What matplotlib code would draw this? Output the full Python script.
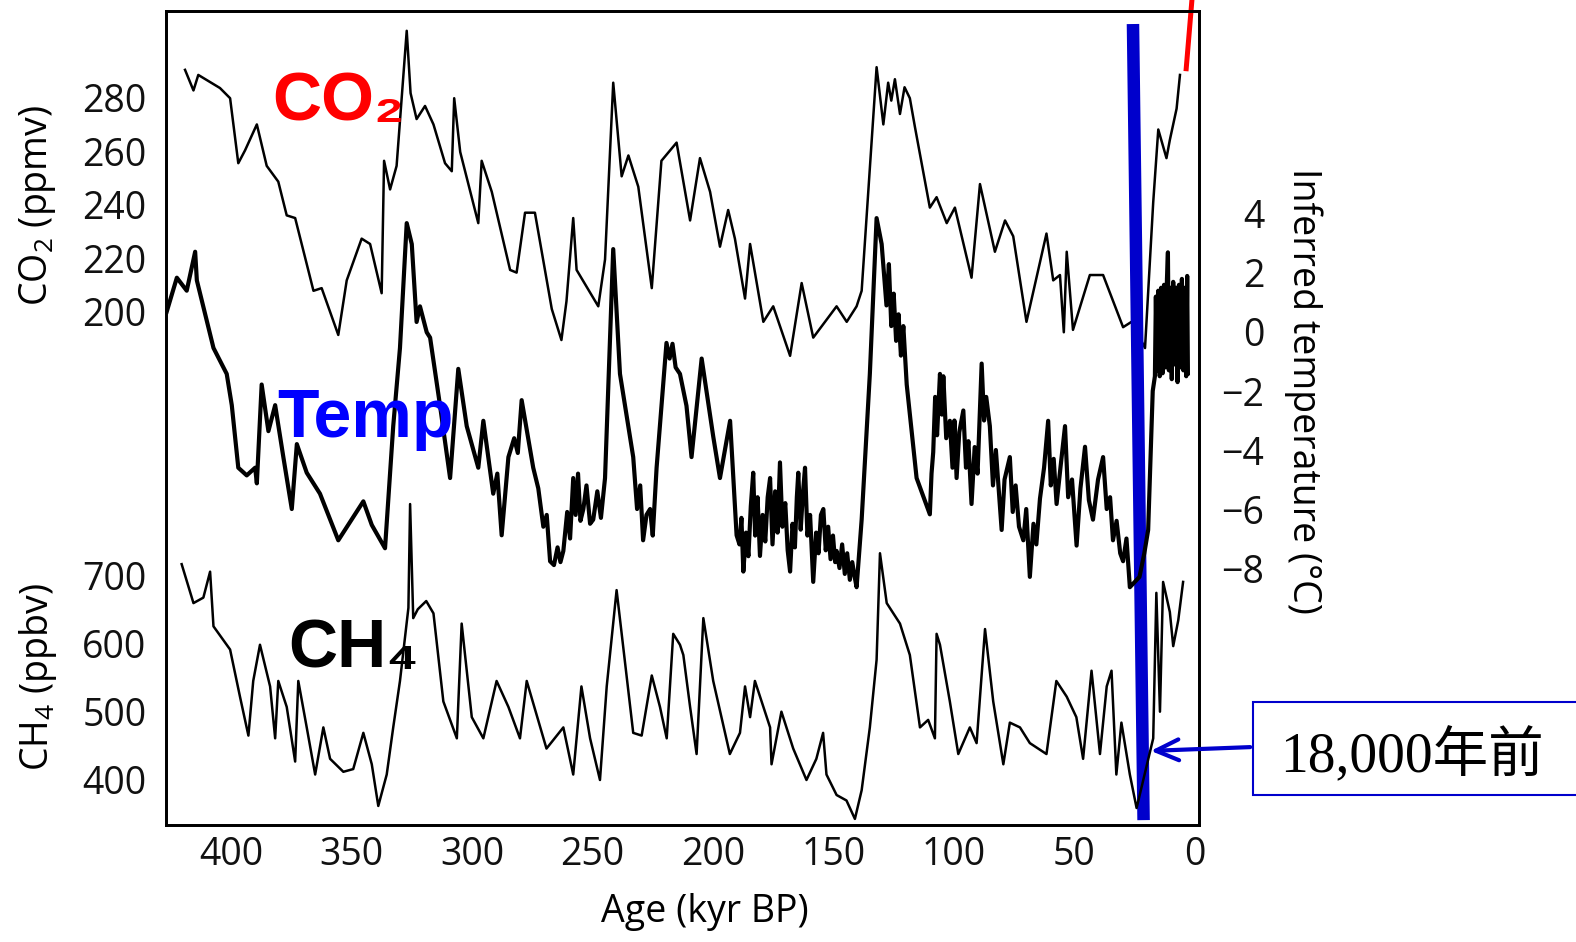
import matplotlib
matplotlib.use("Agg")
import matplotlib.pyplot as plt
from matplotlib.patches import Rectangle, FancyArrowPatch

plt.rcParams['font.family'] = ['Open Sans', 'DejaVu Sans']
plt.rcParams['mathtext.default'] = 'regular'

# CO2 (ppmv) vs age (kyr BP)
co2_age = [419.1, 415.6, 413.6, 404.6, 400.4, 397.0, 394.2, 389.3, 385.2, 380.4,
           376.9, 373.4, 365.8, 362.4, 355.5, 352.0, 345.8, 342.3, 337.5, 336.5,
           334.0, 331.3, 327.1, 325.5, 323.0, 319.5, 316.0, 311.2, 308.4, 307.4,
           304.9, 297.4, 296.0, 291.8, 284.2, 281.5, 278.0, 273.9, 266.9, 262.9,
           260.8, 258.0, 256.6, 247.6, 244.8, 241.4, 237.9, 235.1, 231.0, 225.4,
           221.4, 215.1, 209.5, 205.4, 201.2, 197.1, 193.7, 190.9, 186.7, 184.6,
           179.1, 175.0, 168.0, 163.2, 158.4, 148.7, 144.5, 140.4, 138.3, 132.1,
           129.3, 127.3, 126.0, 124.5, 122.4, 120.5, 118.3, 116.2, 110.0, 107.2,
           103.0, 99.6, 92.7, 89.2, 83.0, 78.8, 75.4, 69.9, 61.6, 58.8,
           56.0, 54.4, 53.2, 50.6, 43.6, 38.1, 29.8, 26.3, 20.7, 17.3,
           15.2, 11.8, 10.4, 7.6, 6.2]
co2_val = [290.5, 282.8, 288.6, 283.7, 279.9, 255.6, 260.4, 270.1, 254.6, 248.7,
           236.1, 235.1, 207.9, 208.9, 191.4, 211.8, 227.4, 225.4, 207.0, 256.5,
           245.8, 254.6, 305.1, 281.8, 272.1, 277.0, 270.1, 255.6, 252.6, 279.9,
           259.8, 233.2, 256.5, 244.9, 215.7, 214.7, 237.1, 237.1, 201.1, 189.5,
           204.0, 235.1, 215.7, 202.1, 219.6, 285.7, 250.7, 258.5, 246.8, 208.9,
           256.5, 263.3, 234.2, 257.5, 244.9, 224.4, 238.1, 227.4, 205.0, 225.4,
           196.3, 202.1, 183.6, 210.8, 190.4, 202.1, 196.3, 202.1, 207.9, 291.5,
           270.1, 285.7, 279.0, 287.0, 274.0, 284.0, 279.9, 269.2, 239.0, 242.9,
           233.2, 239.0, 212.8, 247.8, 222.5, 234.2, 228.3, 196.3, 229.3, 211.8,
           213.8, 192.4, 222.5, 193.3, 213.8, 213.8, 194.3, 196.3, 186.5, 241.0,
           268.2, 257.5, 264.3, 276.0, 288.6]

# modern CO2 rise (red)
modern_age = [3.7, 1.2]
modern_co2 = [290.0, 317.0]

# inferred temperature (deg C)
temp_age = [426.7, 422.5, 418.4, 414.9, 414.2, 407.3, 401.8, 399.7, 397.0, 393.5,
            390.0, 389.3, 387.3, 384.5, 381.7, 378.3, 374.8, 372.7, 368.6, 363.1,
            355.5, 349.3, 345.1, 341.6, 336.1, 332.7, 329.9, 327.1, 325.0, 323.0,
            321.6, 318.8, 317.4, 313.3, 309.1, 305.7, 302.2, 297.4, 295.3, 291.2,
            289.5, 287.7, 284.9, 282.5, 281.0, 279.4, 274.6, 272.5, 270.4, 269.0,
            267.6, 266.0, 264.5, 263.3, 262.1, 260.5, 259.3, 258.0, 257.0, 256.0,
            255.0, 253.8, 252.5, 251.0, 249.7, 248.0, 246.5, 244.8, 241.4, 238.6,
            233.1, 231.5, 230.2, 229.0, 227.6, 226.1, 225.0, 223.4, 219.3, 218.0,
            216.8, 215.5, 213.7, 211.0, 208.9, 204.7, 199.9, 197.1, 192.9, 190.2,
            189.0, 188.2, 187.4, 186.3, 185.3, 184.3, 183.3, 182.5, 181.5, 180.5,
            179.4, 178.3, 177.3, 176.3, 175.3, 174.2, 173.2, 172.2, 171.2, 170.0,
            169.0, 168.0, 167.0, 166.0, 165.2, 164.6, 163.6, 162.7, 161.8, 160.8,
            159.7, 158.4, 157.2, 156.2, 155.2, 154.2, 153.2, 152.2, 151.2, 150.2,
            149.3, 148.7, 147.5, 146.4, 145.3, 144.3, 143.2, 142.2, 141.2, 140.4,
            138.3, 134.9, 132.1, 130.0, 128.0, 127.0, 126.0, 125.0, 124.0, 123.0,
            122.0, 121.0, 119.6, 115.5, 110.0, 109.3, 108.6, 107.8, 107.0, 105.8,
            105.0, 104.4, 103.2, 101.7, 100.6, 99.8, 98.9, 97.8, 96.1, 95.0,
            94.0, 92.7, 91.4, 90.2, 88.5, 87.5, 86.6, 85.1, 83.8, 82.6,
            80.2, 79.0, 76.8, 75.6, 74.4, 73.0, 71.2, 70.0, 68.5, 67.0,
            65.8, 64.3, 62.6, 60.9, 59.8, 58.6, 57.4, 55.8, 53.9, 52.6,
            51.0, 49.1, 47.5, 45.6, 44.0, 42.3, 40.2, 38.1, 36.6, 35.2,
            34.0, 32.5, 31.0, 29.8, 28.4, 27.0, 23.0, 21.0, 19.4, 18.5,
            17.5, 16.6, 16.2, 15.8, 15.2, 14.6, 14.0, 13.4, 12.8, 12.2,
            11.6, 11.2, 10.8, 10.2, 9.6, 9.0, 8.4, 7.8, 7.2, 6.6,
            6.0, 5.4, 4.8, 4.2, 3.6, 3.2, 2.9]
temp_val = [0.69, 1.84, 1.40, 2.72, 1.75, -0.54, -1.42, -2.48, -4.60, -4.86,
            -4.60, -5.13, -1.78, -3.36, -2.48, -4.24, -6.00, -3.80, -4.77, -5.48,
            -7.06, -6.27, -5.74, -6.54, -7.33, -3.19, -0.54, 3.69, 2.98, 0.34,
            0.87, -0.01, -0.19, -2.48, -4.95, -1.25, -3.19, -4.60, -3.01, -5.48,
            -4.8, -6.89, -4.24, -3.6, -4.1, -2.31, -4.60, -5.3, -6.6, -6.2,
            -7.77, -7.9, -7.3, -7.8, -7.42, -6.1, -7.0, -4.95, -6.2, -4.8,
            -6.4, -6.00, -5.2, -6.5, -6.36, -5.4, -6.3, -4.95, 2.81, -1.42,
            -4.24, -6.0, -5.2, -7.06, -6.2, -6.00, -6.9, -4.60, -0.37, -0.9,
            -0.4, -1.2, -1.42, -2.5, -4.24, -0.90, -3.54, -4.95, -3.01, -6.89,
            -7.2, -6.3, -8.12, -6.8, -7.6, -5.9, -4.77, -6.9, -5.6, -7.59,
            -6.2, -7.1, -5.6, -4.95, -7.2, -5.4, -6.8, -4.42, -6.6, -5.8,
            -7.4, -8.12, -6.5, -7.3, -5.6, -4.77, -6.7, -5.5, -4.60, -6.9,
            -6.2, -8.47, -6.8, -7.5, -6.2, -6.00, -7.4, -6.6, -7.7, -6.9,
            -7.8, -7.42, -8.0, -7.2, -8.2, -7.5, -8.4, -7.8, -8.3, -8.65,
            -6.36, -1.42, 3.86, 2.98, 0.9, 2.3, 0.2, 1.3, -0.3, 0.6,
            -0.8, 0.2, -1.78, -4.95, -6.18, -4.8, -4.07, -2.2, -3.5, -1.42,
            -2.8, -1.5, -3.6, -3.01, -4.6, -3.0, -4.95, -3.4, -2.66, -4.6,
            -3.7, -5.83, -3.9, -4.8, -1.07, -3.0, -2.2, -3.19, -5.2, -4.0,
            -6.71, -5.0, -4.24, -6.1, -5.2, -6.6, -7.06, -6.0, -8.30, -6.5,
            -7.2, -5.65, -4.6, -3.01, -5.2, -4.3, -5.83, -4.6, -3.19, -5.6,
            -5.0, -7.24, -5.3, -3.89, -5.7, -6.36, -5.0, -4.24, -6.0, -5.6,
            -7.06, -6.4, -7.5, -7.77, -7.0, -8.65, -8.3, -7.5, -6.71, -4.5,
            -2.0, -1.5, 1.2, -1.3, 1.4, -1.5, 1.5, -1.4, 1.6, -1.2,
            1.8, 2.7, -1.3, 1.5, -1.6, 1.7, -1.1, 1.5, -1.7, 1.6,
            -1.2, 1.8, -1.3, 1.5, -1.5, 1.9, -1.4]

# CH4 (ppbv)
ch4_age = [420.5, 415.6, 411.5, 408.7, 407.3, 400.4, 396.3, 392.8, 390.8, 388.0,
           383.8, 381.7, 380.4, 376.9, 373.4, 372.1, 368.6, 365.1, 361.7, 358.9,
           353.4, 349.3, 345.1, 341.6, 338.9, 335.4, 332.7, 329.9, 326.4, 325.7,
           324.4, 322.5, 319.0, 316.0, 311.9, 306.3, 304.3, 300.1, 295.3, 289.8,
           284.9, 280.1, 277.3, 269.1, 262.1, 258.0, 254.6, 251.0, 246.9, 244.1,
           240.0, 233.1, 229.6, 225.4, 222.0, 219.2, 216.5, 213.7, 212.3, 209.5,
           206.8, 204.0, 199.9, 193.0, 188.8, 186.7, 184.6, 182.6, 176.3, 175.7,
           171.6, 166.7, 161.2, 157.1, 154.3, 152.9, 148.7, 144.6, 141.1, 138.3,
           134.9, 132.1, 130.7, 127.9, 122.4, 118.3, 114.1, 110.7, 107.9, 107.2,
           105.8, 101.7, 98.2, 93.4, 90.6, 87.1, 83.7, 79.5, 76.8, 72.6,
           68.5, 61.6, 57.5, 53.2, 49.2, 46.4, 42.9, 39.4, 36.6, 34.6,
           32.6, 30.5, 27.0, 24.2, 17.3, 16.0, 14.5, 13.2, 10.4, 9.0,
           6.9, 4.9]
ch4_val = [716, 659, 667, 705, 625, 591, 522, 465, 545, 598,
           537, 461, 545, 507, 427, 545, 477, 408, 477, 431,
           412, 416, 469, 423, 362, 408, 477, 545, 652, 804,
           637, 650, 662, 644, 515, 461, 629, 492, 461, 545,
           507, 461, 545, 446, 477, 408, 537, 461, 400, 537,
           678, 469, 465, 553, 507, 461, 614, 598, 583, 507,
           438, 637, 545, 438, 469, 537, 492, 545, 477, 423,
           500, 446, 400, 431, 469, 408, 378, 370, 343, 385,
           477, 576, 732, 659, 629, 583, 477, 488, 461, 614,
           598, 515, 438, 477, 454, 621, 515, 423, 484, 477,
           454, 438, 545, 522, 492, 431, 560, 438, 537, 560,
           408, 484, 408, 359, 461, 674, 500, 690, 646, 596,
           634, 690]

xticks = [400, 350, 300, 250, 200, 150, 100, 50, 0]
co2_ticks = [200, 220, 240, 260, 280]
ch4_ticks = [400, 500, 600, 700]
temp_ticks = [4, 2, 0, -2, -4, -6, -8]

W, H = 1576, 942
fig = plt.figure(figsize=(W / 100, H / 100), dpi=100)
L, R, T, B = 166, 1199, 11, 825
ax = fig.add_axes([L / W, 1 - B / H, (R - L) / W, (B - T) / H])
ax_t = ax.twinx()
ax_c = ax.twinx()

ax.plot(co2_age, co2_val, color='black', lw=1.8)
ax.plot(modern_age, modern_co2, color='#ff0000', lw=3.6, clip_on=False, solid_capstyle='butt')
ax_t.plot(temp_age, temp_val, color='black', lw=3.0)
ax_c.plot(ch4_age, ch4_val, color='black', lw=1.8)

ax.set_xlim(427, -1.7)
ax.set_ylim(8.2, 312.5)
ax_t.set_ylim(-16.71, 10.88)
ax_c.set_ylim(334.1, 1525.9)

ax.set_xticks(xticks)
ax.set_yticks(co2_ticks)
ax_t.set_yticks(temp_ticks)
ax_c.set_yticks(ch4_ticks)
ax_c.yaxis.tick_left()

for a in (ax, ax_t, ax_c):
    for s in a.spines.values():
        s.set_linewidth(1.8)
    a.tick_params(length=0, labelsize=27, colors='#111111')
ax.tick_params(axis='y', pad=14)
ax_c.tick_params(axis='y', pad=14)
ax.tick_params(axis='x', pad=8)
ax_t.tick_params(axis='y', pad=47)
plt.setp(ax_t.get_yticklabels(), ha='right')

fig.text(38 / W, 1 - 205 / H, 'CO$_2$ (ppmv)', rotation=90, ha='center', va='center', fontsize=27)
fig.text(38 / W, 1 - 677 / H, 'CH$_4$ (ppbv)', rotation=90, ha='center', va='center', fontsize=27)
fig.text(1303 / W, 1 - 391 / H, 'Inferred temperature (°C)', rotation=-90, ha='center', va='center', fontsize=27)
fig.text(705 / W, 1 - 912 / H, 'Age (kyr BP)', ha='center', va='center', fontsize=27)

big = ['Liberation Sans', 'DejaVu Sans']
fig.text(272 / W, 1 - 120 / H, 'CO₂', color='#ff0000', fontsize=49, fontweight='bold', family=big, va='baseline')
fig.text(277 / W, 1 - 437 / H, 'Temp', color='#0000ff', fontsize=49, fontweight='bold', family=big, va='baseline')
fig.text(288 / W, 1 - 667 / H, 'CH₄', color='black', fontsize=49, fontweight='bold', family=big, va='baseline')

# 18,000 years ago marker
xt = ax.get_xaxis_transform()
ax.plot([25.7, 21.3], [0.984, 0.006], transform=xt, color='#0000cc', lw=9, solid_capstyle='butt', zorder=5)

fig.add_artist(Rectangle((1253 / W, 1 - 795 / H), 400 / W, 93 / H, transform=fig.transFigure,
                         facecolor='white', edgecolor='#0000cc', lw=1.5))
fig.text(1280 / W, 1 - 772 / H, '18,000年前', fontsize=40, va='baseline',
         family=['Liberation Serif', 'Noto Sans CJK JP'])
fig.add_artist(FancyArrowPatch((1253 / W, 1 - 747 / H), (1148 / W, 1 - 751 / H), transform=fig.transFigure,
                               arrowstyle='->,head_length=0.55,head_width=0.25', mutation_scale=30,
                               color='#0000cc', lw=3))

fig.savefig('out.png', dpi=100)
